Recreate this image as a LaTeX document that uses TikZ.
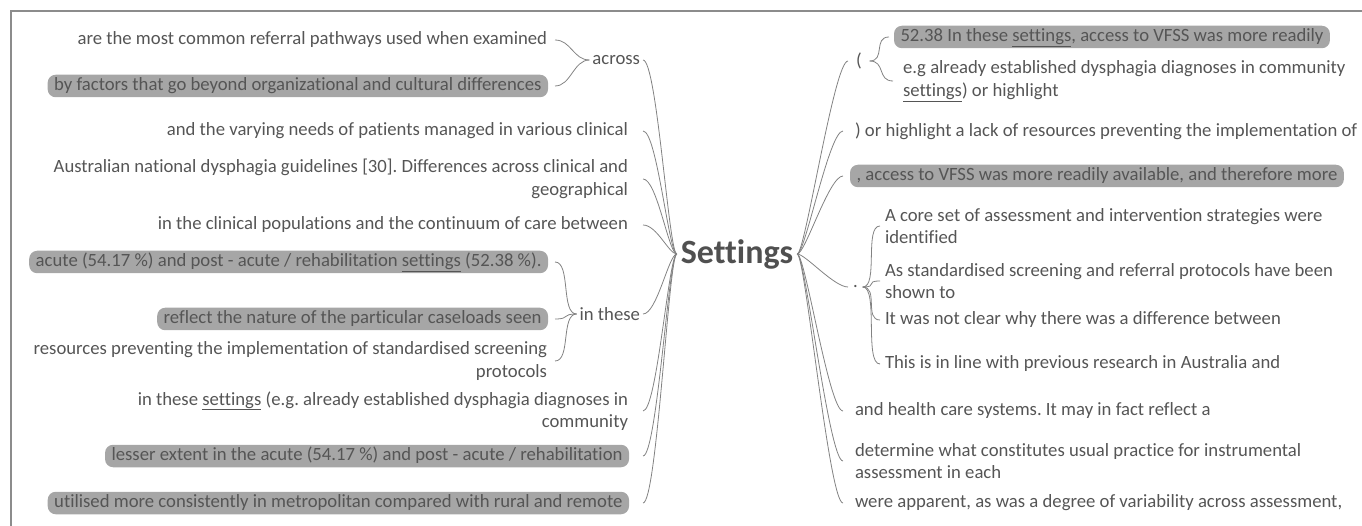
\documentclass[tikz,border=0pt]{standalone}
\usepackage{fontspec}
\setmainfont{Carlito}[Ligatures={NoCommon}]
\frenchspacing
\definecolor{txt}{RGB}{85,85,85}
\definecolor{settxt}{RGB}{80,80,80}
\definecolor{hlfill}{RGB}{166,166,166}
\definecolor{linecol}{RGB}{130,130,130}
\definecolor{bordercol}{RGB}{140,140,140}
\tikzset{
  base/.style={font=\fontsize{18.7}{22.5}\selectfont, text=txt, inner sep=0pt},
  plain/.style={base},
  hl/.style={base, fill=hlfill, rounded corners=8pt, inner xsep=6.5pt, inner ysep=2.5pt, text height=13.5pt, text depth=4pt},
  lp/.style={plain, anchor=east, outer xsep=15pt, align=right},
  lh/.style={hl, anchor=east, outer xsep=14pt},
  lp2/.style={plain, anchor=east, outer xsep=8pt, align=right},
  lh2/.style={hl, anchor=east, outer xsep=7pt},
  rp/.style={plain, anchor=west, outer xsep=12pt, align=left},
  rh/.style={hl, anchor=west, outer xsep=7pt},
  rp2/.style={plain, anchor=west, outer xsep=5pt, align=left},
  rh2/.style={hl, anchor=west, outer xsep=5pt},
  mid/.style={plain, outer xsep=3pt},
  central/.style={font=\fontsize{34}{40}\selectfont\bfseries, text=settxt, inner xsep=4pt, inner ysep=0pt, outer sep=0pt},
  conn/.style={draw=linecol, line width=0.8pt},
}
\newcommand\mmL[2]{\draw[conn] (#1.west) .. controls +(-8,0) and +(14,0) .. (#2.east);}
\newcommand\mmR[2]{\draw[conn] (#1.east) .. controls +(8,0) and +(-14,0) .. (#2.west);}
\newcommand\mmBL[2]{\draw[conn] (#1.west) .. controls +(-16,0) and +(16,0) .. (#2.east);}
\newcommand\mmBR[2]{\draw[conn] (#1.east) .. controls +(16,0) and +(-16,0) .. (#2.west);}
\begin{document}
\begin{tikzpicture}[x=1pt,y=-1pt]
\useasboundingbox (0,0) rectangle (1362,526);
\draw[bordercol, line width=1.5pt] (11,526) -- (11,11) -- (1362,11);

\node[central] (S) at (737,254) {Settings};

% left side, first level
\node[mid, anchor=east] (across) at (643,60) {across};
\node[lp] (vary) at (643,131) {and the varying needs of patients managed in various clinical};
\node[lp] (aus) at (643,179) {Australian national dysphagia guidelines [30]. Differences across clinical and\\geographical};
\node[lp] (clin) at (643,225) {in the clinical populations and the continuum of care between};
\node[mid, anchor=east] (inthese) at (643,314) {in these};
\node[lp] (setcomm) at (643,411) {in these \underline{settings} (e.g. already established dysphagia diagnoses in\\community};
\node[lh] (lesser) at (643,456) {lesser extent in the acute (54.17 \%) and post - acute / rehabilitation};
\node[lh] (util) at (643,503) {utilised more consistently in metropolitan compared with rural and remote};

% left side, second level
\node[lp2] (exam) at (555,40) {are the most common referral pathways used when examined};
\node[lh2] (factors) at (555,86) {by factors that go beyond organizational and cultural differences};
\node[lh2] (acute) at (555,262) {acute (54.17 \%) and post - acute / rehabilitation \underline{settings} (52.38 \%).};
\node[lh2] (reflect) at (555,319) {reflect the nature of the particular caseloads seen};
\node[lp2] (resources) at (555,361) {resources preventing the implementation of standardised screening\\protocols};

% right side, first level
\node[plain, anchor=west, outer xsep=8pt] (paren) at (848,61) {(};
\node[rp] (orh) at (843,131) {) or highlight a lack of resources preventing the implementation of};
\node[rh] (acc) at (843,176) {, access to VFSS was more readily available, and therefore more};
\node[plain, anchor=west, outer xsep=5pt] (dot) at (848,287) {.};
\node[rp] (health) at (843,411) {and health care systems. It may in fact reflect a};
\node[rp] (determine) at (843,461) {determine what constitutes usual practice for instrumental\\assessment in each};
\node[rp] (were) at (843,503) {were apparent, as was a degree of variability across assessment,};

% right side, second level
\node[rh2] (r52) at (889,37) {52.38 In these \underline{settings}, access to VFSS was more readily};
\node[plain, anchor=west, outer xsep=10pt, align=left] (eg) at (893,81) {e.g already established dysphagia diagnoses in community\\\underline{settings}) or highlight};
\node[rp2] (core) at (880,226) {A core set of assessment and intervention strategies were\\identified};
\node[rp2] (asstd) at (880,281) {As standardised screening and referral protocols have been\\shown to};
\node[rp2] (itwas) at (880,320) {It was not clear why there was a difference between};
\node[rp2] (thisis) at (880,364) {This is in line with previous research in Australia and};

% connectors
\mmL{S}{across}
\mmL{S}{vary}
\mmL{S}{aus}
\mmL{S}{clin}
\mmL{S}{inthese}
\mmL{S}{setcomm}
\mmL{S}{lesser}
\mmL{S}{util}
\mmBL{across}{exam}
\mmBL{across}{factors}
\mmBL{inthese}{acute}
\mmBL{inthese}{reflect}
\mmBL{inthese}{resources}
\mmR{S}{paren}
\mmR{S}{orh}
\mmR{S}{acc}
\mmR{S}{dot}
\mmR{S}{health}
\mmR{S}{determine}
\mmR{S}{were}
\mmBR{paren}{r52}
\mmBR{paren}{eg}
\mmBR{dot}{core}
\mmBR{dot}{asstd}
\mmBR{dot}{itwas}
\mmBR{dot}{thisis}
\end{tikzpicture}
\end{document}
